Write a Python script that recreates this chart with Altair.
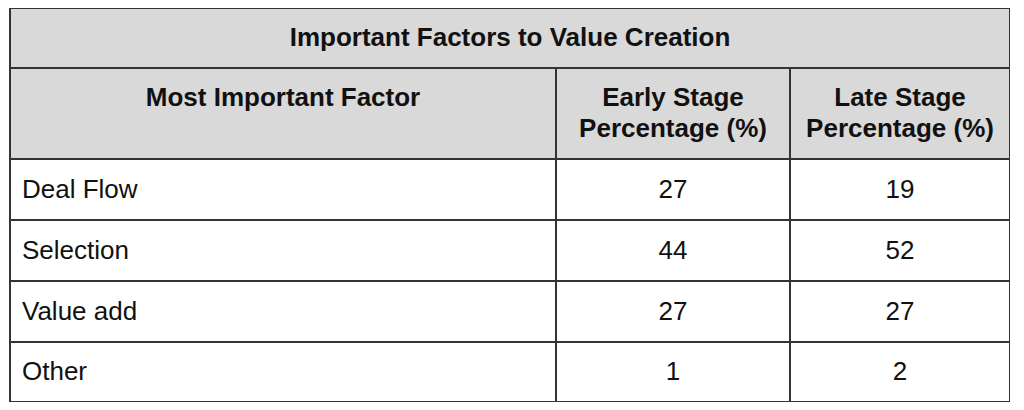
import altair as alt
import pandas as pd

# ---- data ----
title = "Important Factors to Value Creation"
header_lines = [["Most Important Factor"],
                ["Early Stage", "Percentage (%)"],
                ["Late Stage", "Percentage (%)"]]
factors = ["Deal Flow", "Selection", "Value add", "Other"]
early = [27, 44, 27, 1]
late = [19, 52, 27, 2]

# ---- layout constants ----
W, H = 1000, 394
col_edges = [0, 546, 780, 1000]
row_edges = [0, 60, 151, 212, 273, 334, 394]
GRAY = "#d9d9d9"
LINE = "#333333"
FONT = "Liberation Sans"
FS = 26

# cells
cells = []
cells.append(dict(x=col_edges[0], x2=col_edges[-1], y=row_edges[0], y2=row_edges[1], fill=GRAY))
for c in range(3):
    cells.append(dict(x=col_edges[c], x2=col_edges[c + 1], y=row_edges[1], y2=row_edges[2], fill=GRAY))
for r in range(len(factors)):
    for c in range(3):
        cells.append(dict(x=col_edges[c], x2=col_edges[c + 1],
                          y=row_edges[r + 2], y2=row_edges[r + 3], fill="#ffffff"))
cells_df = pd.DataFrame(cells)

# texts
bold_texts = [dict(x=W / 2, y=30, text=title)]
line_y = [90, 121]
for c, lines in enumerate(header_lines):
    cx = (col_edges[c] + col_edges[c + 1]) / 2
    for i, ln in enumerate(lines):
        bold_texts.append(dict(x=cx, y=line_y[i], text=ln))
bold_df = pd.DataFrame(bold_texts)

left_texts, center_texts = [], []
for r, f in enumerate(factors):
    cy = (row_edges[r + 2] + row_edges[r + 3]) / 2
    left_texts.append(dict(x=col_edges[0] + 12, y=cy, text=f))
    center_texts.append(dict(x=(col_edges[1] + col_edges[2]) / 2, y=cy, text=str(early[r])))
    center_texts.append(dict(x=(col_edges[2] + col_edges[3]) / 2, y=cy, text=str(late[r])))
left_df = pd.DataFrame(left_texts)
center_df = pd.DataFrame(center_texts)

xs = alt.Scale(domain=[0, W], range=[0, W])
ys = alt.Scale(domain=[0, H], reverse=True)

rects = alt.Chart(cells_df).mark_rect(stroke=LINE, strokeWidth=2).encode(
    x=alt.X("x:Q", scale=xs, axis=None),
    x2="x2:Q",
    y=alt.Y("y:Q", scale=ys, axis=None),
    y2="y2:Q",
    fill=alt.Fill("fill:N", scale=None),
)

def text_layer(df, align, weight):
    return alt.Chart(df).mark_text(
        align=align, baseline="middle", font=FONT, fontSize=FS,
        fontWeight=weight, color="#111111"
    ).encode(
        x=alt.X("x:Q", scale=xs, axis=None),
        y=alt.Y("y:Q", scale=ys, axis=None),
        text="text:N",
    )

chart = alt.layer(
    rects,
    text_layer(bold_df, "center", "bold"),
    text_layer(left_df, "left", "normal"),
    text_layer(center_df, "center", "normal"),
).properties(
    width=W, height=H,
    autosize=alt.AutoSizeParams(type="none"),
    padding={"left": 2, "top": 0, "right": 0, "bottom": 0},
    background="#ffffff",
).configure_view(stroke=None)

chart.save("out.html", embed_options={"renderer": "svg", "actions": False})
